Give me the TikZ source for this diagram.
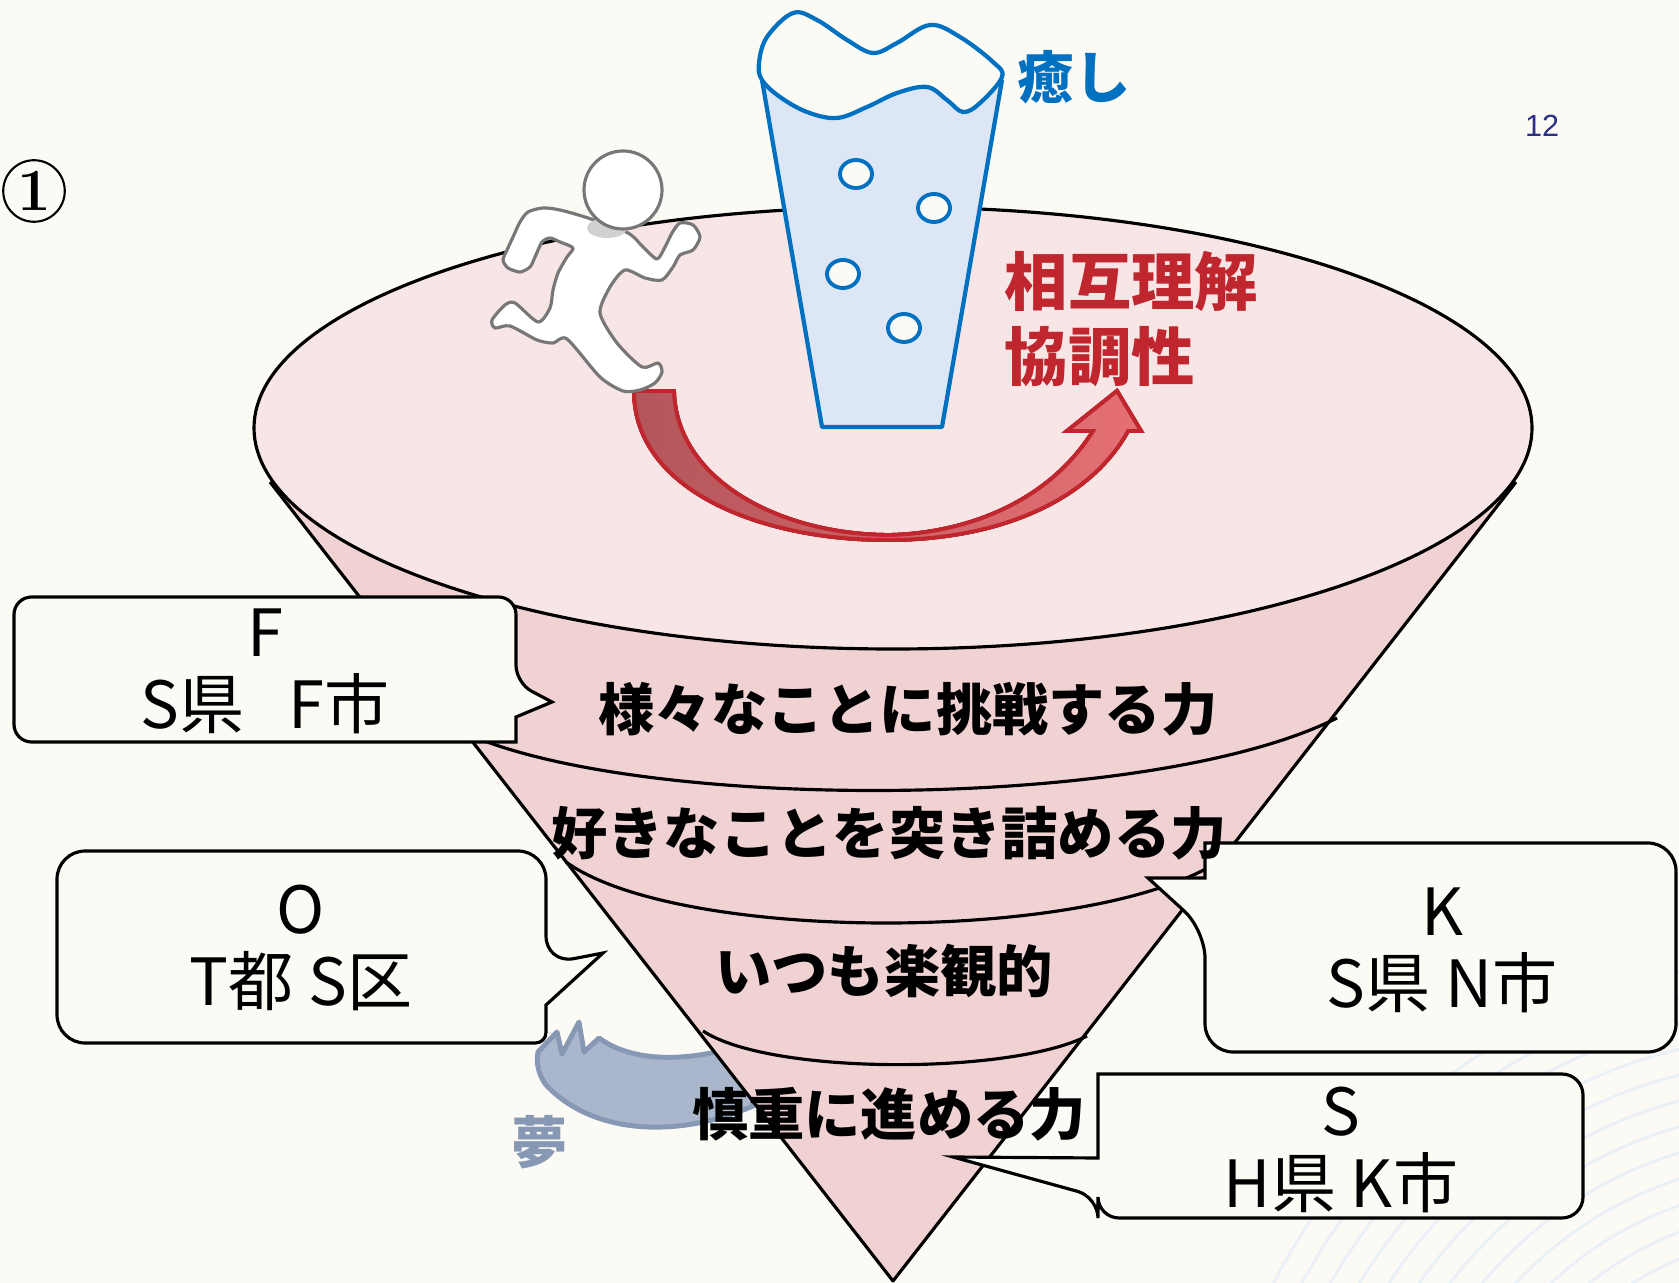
\documentclass[tikz,border=0pt]{standalone}
\usepackage{fontspec}
\usepackage{xcolor}
\newfontfamily\jpfont{Noto Sans CJK JP}
\newfontfamily\numfont{Liberation Sans}
\definecolor{paper}{HTML}{FCFAF5}
\definecolor{rimpink}{HTML}{F8E6E6}
\definecolor{conepink}{HTML}{F1D2D2}
\definecolor{glassblue}{HTML}{0070C0}
\definecolor{waterblue}{HTML}{DCE6F4}
\definecolor{harmred}{HTML}{C0262D}
\definecolor{arrowdark}{HTML}{B3565B}
\definecolor{arrowlight}{HTML}{E57074}
\definecolor{dreamfill}{HTML}{A9B6CB}
\definecolor{dreamline}{HTML}{8698B3}
\definecolor{pagenum}{HTML}{2B2E83}
\definecolor{runnergray}{HTML}{777777}
\definecolor{ripple}{HTML}{EAF0F8}
\tikzset{
    band/.style={draw=black, line width=0.9pt},
    callout/.style={draw=black, line width=0.9pt, fill=paper, line join=miter},
    stage/.style={font=\jpfont\bfseries\fontsize{16}{18}\selectfont, text=black, inner sep=0pt},
    place/.style={font=\jpfont\fontsize{18.5}{20.5}\selectfont, align=center, inner sep=0pt},
    bubble/.style={draw=glassblue, line width=1.1pt, fill=paper}
}
\newcommand{\bubble}[2] {
    \draw[bubble] ({#1}, {#2}) ellipse [x radius=16, y radius=14];
}
\begin{document}
\begin{tikzpicture}[x=0.01cm, y=-0.01cm]
    \useasboundingbox (0,0) rectangle (1679,1283);
    \fill[paper] (0,0) rectangle (1679,1283);
    \begin{scope}
        \clip (0,0) rectangle (1679,1283);
        \foreach \r in {290,315,...,590}
            \draw[ripple, line width=0.8pt] (1800,1550) circle [radius=\r];
    \end{scope}
    % dream arrow sits behind the cone
    \draw[dreamline, fill=dreamfill, line width=1.4pt, line join=round]
        (538,1052) -- (557,1032) -- (562,1054) -- (579,1022) -- (584,1052) -- (599,1038)
        .. controls (640,1068) and (710,1060) .. (770,1035)
        -- (775,1095)
        .. controls (700,1137) and (600,1142) .. (546,1085)
        .. controls (538,1074) and (536,1062) .. (538,1052) -- cycle;
    \draw[fill=conepink, line width=0.9pt, line join=round] (270,482) -- (893,1281) -- (1516,482);
    \draw[band] (465,733) .. controls (640,812) and (1150,812) .. (1337,718);
    \draw[band] (566,862) .. controls (680,944) and (1100,944) .. (1224,858);
    \draw[band] (703,1031) .. controls (770,1075) and (1010,1075) .. (1087,1036);
    \draw[fill=rimpink, line width=0.9pt] (893,428) ellipse [x radius=639, y radius=221];
    % glass of water
    \draw[glassblue, fill=waterblue, line width=1.2pt, line join=round]
        (762,80) -- (822,427) -- (942,427) -- (1002,80);
    \draw[glassblue, fill=paper, line width=1.2pt] plot[smooth cycle, tension=0.6] coordinates {
        (759,63) (767,37) (793,13) (817,20) (847,40) (873,53) (897,43) (930,25) (960,37)
        (993,62) (1002,77) (980,103) (963,112) (947,100) (927,87) (897,93) (867,107)
        (837,118) (807,112) (780,97) (762,80)};
    \foreach \bx/\by in {856/174, 934/208, 843/274, 904/328}
        \bubble{\bx}{\by}
    % curved arrow
    \draw[harmred, line width=1.1pt, left color=arrowdark, right color=arrowlight]
        (634,391) .. controls (634,490) and (760,540) .. (887,540)
        .. controls (1000,540) and (1090,500) .. (1128,431)
        -- (1141,431) -- (1117,391) -- (1067,431) -- (1093,431)
        .. controls (1050,500) and (970,533) .. (890,535)
        .. controls (780,535) and (676,480) .. (674,391) -- cycle;
    % runner
    \draw[runnergray, fill=white, line width=0.9pt, line join=round] plot[smooth cycle, tension=0.45] coordinates {
        (588,218) (560,210) (543,208) (528,212) (520,222) (513,237) (507,250) (503,260)
        (508,268) (520,272) (530,267) (535,257) (542,242) (550,238) (560,242) (573,248)
        (567,257) (558,273) (553,290) (550,308) (538,322) (515,303) (505,305) (492,320)
        (495,328) (510,326) (537,340) (553,343) (567,339) (600,377) (623,391) (640,390)
        (655,383) (662,372) (658,363) (642,367) (617,343) (600,313) (610,287) (625,270)
        (645,278) (662,280) (673,267) (680,255) (693,250) (700,237) (693,225) (680,223)
        (672,233) (665,247) (657,259) (643,247) (628,233)};
    \fill[black!18] (607,228) ellipse [x radius=20, y radius=10];
    \draw[runnergray, fill=white, line width=0.9pt] (623,190) circle [radius=39];
    % speech callouts
    \draw[callout] (265,597) [rounded corners=5pt] -- (516,597) -- (516,683) [sharp corners]
        -- (552,702) -- (516,717) -- (516,742) [rounded corners=5pt] -- (14,742) -- (14,597) -- cycle;
    \draw[callout] (300,851) [rounded corners=8pt] -- (546,851) -- (546,964) [sharp corners]
        -- (603,953) -- (546,1005) [rounded corners=3pt] -- (546,1043) [rounded corners=8pt]
        -- (57,1043) -- (57,851) -- cycle;
    \draw[callout] (1148,878) -- (1205,878) -- (1205,843) [rounded corners=8pt] -- (1676,843)
        -- (1676,1052) -- (1205,1052) -- (1205,930) [sharp corners] -- cycle;
    \draw[callout] (953,1157) -- (1098,1158) -- (1098,1074) [rounded corners=6pt] -- (1583,1074)
        -- (1583,1218) -- (1098,1218) -- (1098,1197) [sharp corners] -- cycle;
    \node[place] (fuji) at (265,671) {F\\S県~~~F市};
    \node[place] (oota) at (301,948) {O\\T都 S区};
    \node[place] (kawa) at (1442,950) {K\\S県 N市};
    \node[place] (saka) at (1341,1150) {S\\H県 K市};
    % layers of the cone
    \node[stage] (try) at (908,709) {様々なことに挑戦する力};
    \node[stage] (dig) at (889,833) {好きなことを突き詰める力};
    \node[stage] (hope) at (884,971) {いつも楽観的};
    \node[stage] (care) at (889,1114) {慎重に進める力};
    \node[font=\jpfont\bfseries\fontsize{16}{18}\selectfont, text=dreamline] (dream) at (540,1142) {夢};
    \node[font=\jpfont\bfseries\fontsize{16}{18}\selectfont, text=glassblue] (heal) at (1074,77) {癒し};
    \node[font=\jpfont\bfseries\fontsize{18}{21.5}\selectfont, text=harmred, align=left, anchor=west, inner sep=0pt]
        (harmony) at (1004,319) {相互理解\\協調性};
    \node[font=\numfont\fontsize{8.7}{10}\selectfont, text=pagenum] (page) at (1542,126) {12};
    \node[circle, draw, line width=0.6pt, minimum size=17.5pt, inner sep=0pt,
        font=\bfseries\fontsize{17}{17}\selectfont] (num) at (34,191) {1};
\end{tikzpicture}
\end{document}
